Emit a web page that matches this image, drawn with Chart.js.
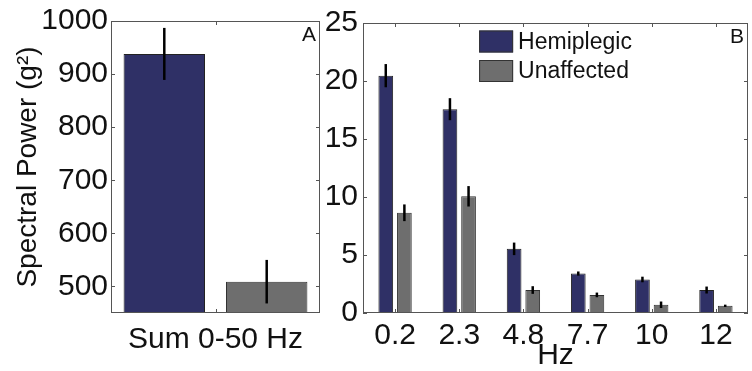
<!DOCTYPE html>
<html>
<head>
<meta charset="utf-8">
<script src="https://cdn.jsdelivr.net/npm/chart.js@4/dist/chart.umd.min.js"></script>
<style>
  body { margin: 0; background: #fff; }
  #wrap { position: relative; width: 752px; height: 371px; }
  canvas { position: absolute; top: 0; }
  #chartA { left: 0; }
  #chartB { left: 318px; }
</style>
</head>
<body>
<div id="wrap">
  <canvas id="chartA" width="322" height="371"></canvas>
  <canvas id="chartB" width="434" height="371"></canvas>
</div>
<script>
// panel A: summed power
const sumLabels = ['Sum 0-50 Hz'];
const sumHemi = [938];
const sumHemiErr = [49];
const sumUnaff = [509];
const sumUnaffErr = [41];
const ticksA = [500, 600, 700, 800, 900, 1000];

// panel B: power per frequency band
const freqLabels = ['0.2', '2.3', '4.8', '7.7', '10', '12'];
const hemi = [20.46, 17.57, 5.53, 3.40, 2.89, 1.98];
const hemiErr = [1.0, 0.95, 0.54, 0.18, 0.24, 0.3];
const unaff = [8.64, 10.06, 1.98, 1.56, 0.71, 0.62];
const unaffErr = [0.72, 0.88, 0.33, 0.2, 0.28, 0.1];
const ticksB = [0, 5, 10, 15, 20, 25];

const NAVY = '#2f3066';
const GRAY = '#6e6e6e';
const TICK_FONT = 30;

Chart.defaults.font.family = '"Liberation Sans", Arial, Helvetica, sans-serif';
Chart.defaults.color = '#111';

// box around plot area + inward tick marks (matlab style)
const framePlugin = {
    id: 'frame',
    afterDraw(chart) {
        const ctx = chart.ctx;
        const a = chart.chartArea;
        const len = 4;
        ctx.save();
        ctx.strokeStyle = '#555';
        ctx.lineWidth = 1;
        ctx.strokeRect(a.left + 0.5, a.top + 0.5, a.right - a.left - 1, a.bottom - a.top - 1);
        ctx.beginPath();
        const xs = chart.scales.x;
        xs.ticks.forEach((t, i) => {
            const px = Math.round(xs.getPixelForTick(i)) + 0.5;
            ctx.moveTo(px, a.bottom); ctx.lineTo(px, a.bottom - len);
            ctx.moveTo(px, a.top); ctx.lineTo(px, a.top + len);
        });
        const ys = chart.scales.y;
        ys.ticks.forEach((t, i) => {
            const py = Math.round(ys.getPixelForTick(i)) + 0.5;
            ctx.moveTo(a.left, py); ctx.lineTo(a.left + len, py);
            ctx.moveTo(a.right, py); ctx.lineTo(a.right - len, py);
        });
        ctx.stroke();

        // panel letter
        const letter = chart.options.plugins.frame.letter;
        ctx.fillStyle = '#111';
        ctx.font = '21px ' + Chart.defaults.font.family;
        ctx.textAlign = 'right';
        ctx.textBaseline = 'alphabetic';
        ctx.fillText(letter, a.right - 4, a.top + 20);
        ctx.restore();
    }
};

const errorBarPlugin = {
    id: 'errbars',
    afterDatasetsDraw(chart) {
        const ctx = chart.ctx;
        const ys = chart.scales.y;
        ctx.save();
        ctx.strokeStyle = '#000';
        ctx.lineWidth = 2.5;
        chart.data.datasets.forEach((ds, i) => {
            const meta = chart.getDatasetMeta(i);
            meta.data.forEach((bar, j) => {
                const v = ds.data[j], e = ds.errors[j];
                ctx.beginPath();
                ctx.moveTo(bar.x, ys.getPixelForValue(v + e));
                ctx.lineTo(bar.x, ys.getPixelForValue(v - e));
                ctx.stroke();
            });
        });
        ctx.restore();
    }
};

// vertical legend inside the plot, centred
const boxLegendPlugin = {
    id: 'boxLegend',
    afterDraw(chart) {
        const opts = chart.options.plugins.boxLegend;
        if (!opts || !opts.show) return;
        const ctx = chart.ctx;
        const a = chart.chartArea;
        ctx.save();
        ctx.font = '23px ' + Chart.defaults.font.family;
        const boxW = 34, boxH = 22, gap = 5, rowH = 29.5;
        const textW = Math.max(...chart.data.datasets.map(d => ctx.measureText(d.label).width));
        const left = (a.left + a.right) / 2 - (boxW + gap + textW) / 2;
        chart.data.datasets.forEach((ds, i) => {
            const top = a.top + 7.5 + i * rowH;
            ctx.fillStyle = ds.backgroundColor;
            ctx.fillRect(left, top, boxW, boxH);
            ctx.strokeStyle = '#333';
            ctx.lineWidth = 1;
            ctx.strokeRect(left + 0.5, top + 0.5, boxW - 1, boxH - 1);
            ctx.fillStyle = '#111';
            ctx.textAlign = 'left';
            ctx.textBaseline = 'middle';
            ctx.fillText(ds.label, left + boxW + gap, top + boxH / 2 + 1);
        });
        ctx.restore();
    }
};

function yTicksFrom(list) {
    return function (scale) {
        scale.ticks = list.map(v => ({ value: v }));
    };
}

new Chart(document.getElementById('chartA'), {
    type: 'bar',
    data: {
        labels: sumLabels,
        datasets: [
            { label: 'Hemiplegic', data: sumHemi, errors: sumHemiErr, backgroundColor: NAVY, borderColor: '#222', borderWidth: 1 },
            { label: 'Unaffected', data: sumUnaff, errors: sumUnaffErr, backgroundColor: GRAY, borderColor: '#333', borderWidth: 1 }
        ]
    },
    options: {
        responsive: false,
        animation: false,
        categoryPercentage: 0.98,
        barPercentage: 0.795,
        layout: { padding: { top: 18, right: 2, left: 0, bottom: 0 } },
        scales: {
            x: {
                grid: { display: false, drawTicks: false },
                border: { display: false },
                ticks: { font: { size: TICK_FONT }, padding: 9 },
                afterFit(scale) { scale.height = 58; }
            },
            y: {
                min: 450,
                max: 1000,
                grid: { display: false, drawTicks: false },
                border: { display: false },
                ticks: { font: { size: TICK_FONT }, padding: 3, callback: v => String(v) },
                afterBuildTicks: yTicksFrom(ticksA),
                title: { display: true, text: 'Spectral Power (g²)', font: { size: 28, lineHeight: 1 }, padding: { top: 14, bottom: 0 } },
                afterFit(scale) { scale.width = 111; }
            }
        },
        plugins: {
            legend: { display: false },
            tooltip: { enabled: false },
            frame: { letter: 'A' }
        }
    },
    plugins: [errorBarPlugin, framePlugin]
});

new Chart(document.getElementById('chartB'), {
    type: 'bar',
    data: {
        labels: freqLabels,
        datasets: [
            { label: 'Hemiplegic', data: hemi, errors: hemiErr, backgroundColor: NAVY, borderColor: '#222', borderWidth: 1 },
            { label: 'Unaffected', data: unaff, errors: unaffErr, backgroundColor: GRAY, borderColor: '#333', borderWidth: 1 }
        ]
    },
    options: {
        responsive: false,
        animation: false,
        categoryPercentage: 0.58,
        barPercentage: 0.79,
        layout: { padding: { top: 19, right: 4, left: 0, bottom: 0 } },
        scales: {
            x: {
                grid: { display: false, drawTicks: false },
                border: { display: false },
                ticks: { font: { size: TICK_FONT }, padding: 5, maxRotation: 0 },
                title: { display: true, text: 'Hz', font: { size: TICK_FONT, lineHeight: 1 }, padding: { top: 0, bottom: 0 } },
                afterFit(scale) { scale.height = 58; }
            },
            y: {
                min: 0,
                max: 25,
                grid: { display: false, drawTicks: false },
                border: { display: false },
                ticks: { font: { size: TICK_FONT }, padding: 5 },
                afterBuildTicks: yTicksFrom(ticksB),
                afterFit(scale) { scale.width = 45; }
            }
        },
        plugins: {
            legend: { display: false },
            tooltip: { enabled: false },
            frame: { letter: 'B' },
            boxLegend: { show: true }
        }
    },
    plugins: [errorBarPlugin, framePlugin, boxLegendPlugin]
});
</script>
</body>
</html>
